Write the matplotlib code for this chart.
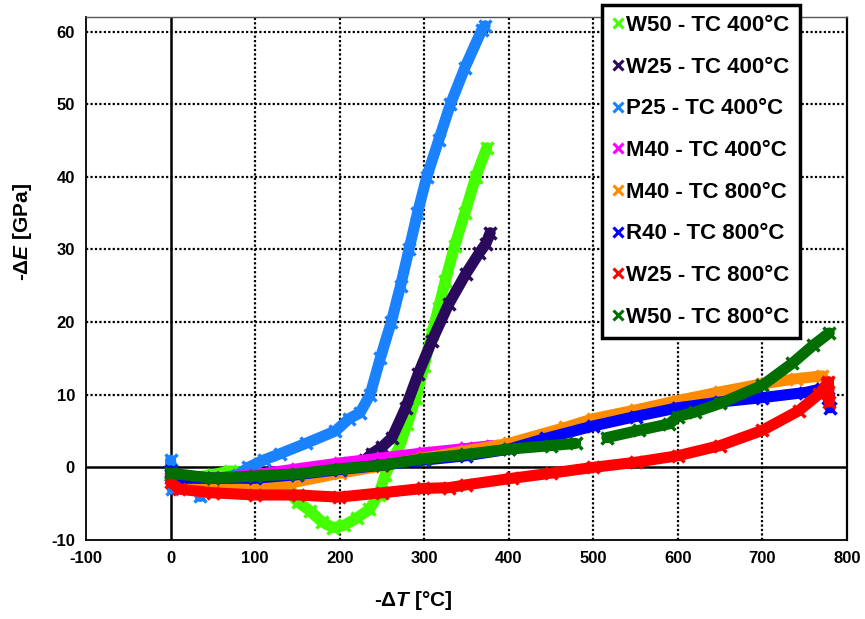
import numpy as np
import matplotlib
matplotlib.use("Agg")
import matplotlib.pyplot as plt
from matplotlib.lines import Line2D

plt.rcParams['font.family'] = ['Liberation Sans', 'DejaVu Sans']
plt.rcParams['font.weight'] = 'bold'
plt.rcParams['mathtext.fontset'] = 'custom'
plt.rcParams['mathtext.rm'] = 'Liberation Sans:bold'
plt.rcParams['mathtext.it'] = 'Liberation Sans:bold:italic'
plt.rcParams['mathtext.bf'] = 'Liberation Sans:bold'

# ---- data ----
labels = ["W50 - TC 400°C", "W25 - TC 400°C", "P25 - TC 400°C", "M40 - TC 400°C",
          "M40 - TC 800°C", "R40 - TC 800°C", "W25 - TC 800°C", "W50 - TC 800°C"]
colors = ["#44ff00", "#2a0a5c", "#1a82ff", "#ff00ff",
          "#ff8c00", "#0000ff", "#ff0000", "#006e00"]

w50_400_x = [0, 20, 50, 70, 100, 120, 140, 151, 165, 179, 192, 205, 220, 235, 246, 254, 262, 270, 280, 290, 300, 309, 317, 325, 336, 348, 361, 374]
w50_400_y = [-1, -1.5, -1, -0.5, -0.8, -2, -3.5, -4.8, -6, -7.5, -8.3, -8, -7, -5.8, -3.8, -1, 1, 2.7, 6, 9.6, 14, 18.4, 22, 25.7, 30.5, 35, 40, 44]

w25_400_x = [0, 50, 100, 150, 200, 230, 238, 250, 262, 278, 293, 309, 329, 349, 365, 373, 378]
w25_400_y = [-1, -1.5, -1.2, -0.5, 0.3, 1, 1.9, 2.8, 4.1, 8.2, 12.9, 17.4, 22.5, 26.6, 29.5, 30.8, 32.3]

p25_400_x = [0, 1, 2, 10, 30, 35, 40, 60, 80, 92, 110, 130, 160, 195, 211, 224, 236, 248, 261, 272, 282, 292, 303, 317, 331, 348, 368, 372]
p25_400_y = [1, -1, -3, -1.5, -2, -4, -2, -1.5, -1, 0, 1, 1.9, 3.3, 5, 6.7, 7.5, 10, 15, 20, 25, 30, 35, 40, 45, 50, 55, 60.2, 60.8]

m40_400_x = [0, 50, 100, 150, 200, 250, 300, 350, 380]
m40_400_y = [-1.5, -1.5, -1, -0.2, 0.6, 1.3, 2, 2.6, 3]

m40_800_x = [0, 30, 80, 112, 140, 200, 250, 300, 350, 400, 467, 500, 550, 600, 650, 700, 740, 771]
m40_800_y = [-1.5, -2.5, -3, -2.7, -2.2, -0.8, 0.2, 1.3, 2.3, 3.3, 5.5, 6.7, 7.9, 9.2, 10.4, 11.5, 12.2, 12.6]

r40_800_x = [0, 10, 50, 100, 150, 200, 250, 300, 350, 400, 444, 500, 550, 600, 650, 700, 750, 770, 778, 780]
r40_800_y = [-0.5, -1.5, -1.5, -1.5, -1, -0.3, 0.3, 1, 1.6, 2.5, 4, 5.7, 7, 8.2, 9, 9.6, 10.3, 10.8, 9.5, 8.2]

w25_800_x = [0, 10, 50, 100, 151, 199, 250, 299, 329, 350, 404, 450, 500, 550, 600, 650, 700, 743, 767, 776, 778, 779]
w25_800_y = [-2, -3, -3.5, -3.8, -3.8, -4.1, -3.5, -2.9, -2.8, -2.4, -1.5, -0.8, 0, 0.7, 1.6, 3, 5.1, 7.8, 10.1, 11.5, 11.8, 9]

w50_800_x = [0, 50, 100, 150, 200, 250, 300, 350, 400, 450, 479, np.nan, 516, 554, 590, 600, 620, 650, 700, 735, 760, 779]
w50_800_y = [-0.8, -1.5, -1.2, -0.9, -0.2, 0.3, 1.2, 1.8, 2.5, 3, 3.3, np.nan, 4.1, 5.1, 6, 7, 7.6, 8.8, 11.3, 14.3, 16.8, 18.5]

series_x = [w50_400_x, w25_400_x, p25_400_x, m40_400_x, m40_800_x, r40_800_x, w25_800_x, w50_800_x]
series_y = [w50_400_y, w25_400_y, p25_400_y, m40_400_y, m40_800_y, r40_800_y, w25_800_y, w50_800_y]

xticks = [-100, 0, 100, 200, 300, 400, 500, 600, 700, 800]
yticks = [-10, 0, 10, 20, 30, 40, 50, 60]

fig = plt.figure(figsize=(8.65, 6.19), dpi=100)
ax = fig.add_axes([86/865, 1-540/619, (847-86)/865, (540-17)/619])
ax.set_xlim(-100, 800)
ax.set_ylim(-10, 62)

for xs, ys, c in zip(series_x, series_y, colors):
    ax.plot(xs, ys, color=c, lw=8, solid_capstyle='round', solid_joinstyle='round',
            marker='x', ms=8, mew=2.5, zorder=3)

for xv in xticks[2:-1]:
    ax.axvline(xv, color='black', lw=1.6, ls=(0, (1, 1)), zorder=1)
for yv in yticks[1:]:
    if yv != 0:
        ax.axhline(yv, color='black', lw=1.6, ls=(0, (1, 1)), zorder=1)
ax.axvline(0, color='black', lw=1.8, zorder=1.5)
ax.axhline(0, color='black', lw=1.8, zorder=1.5)

ax.spines['left'].set_linewidth(1.3)
ax.spines['bottom'].set_linewidth(1.3)
ax.spines['top'].set_linewidth(1.0)
ax.spines['top'].set_color('#555555')
ax.spines['right'].set_linewidth(1.6)
ax.spines['right'].set_linestyle((0, (1, 1)))

ax.set_xticks(xticks)
ax.set_yticks(yticks)
ax.set_xticklabels([str(v) for v in xticks])
ax.set_yticklabels([str(v) for v in yticks])
ax.tick_params(length=0, pad=8, labelsize=12)
for t in ax.get_xticklabels() + ax.get_yticklabels():
    t.set_fontweight('bold')

fig.text(413/865, 1-601/619, r'-$\Delta T$ [°C]', fontsize=15, fontweight='bold',
         ha='center', va='center')
fig.text(22/865, 1-232/619, r'-$\Delta E$ [GPa]', fontsize=15, fontweight='bold',
         ha='center', va='center', rotation=90)

handles = [Line2D([], [], ls='none', marker='x', color=c, ms=7, mew=2.2) for c in colors]
leg = fig.legend(handles, labels, loc='upper left', bbox_to_anchor=(602/865, 1-5/619),
                 bbox_transform=fig.transFigure, frameon=True, fancybox=False, framealpha=1,
                 handlelength=0.5, handletextpad=0.15, labelspacing=0.93,
                 borderpad=0.45, borderaxespad=0,
                 prop={'family': 'Liberation Sans', 'weight': 'bold', 'size': 16})
leg.get_frame().set_edgecolor('black')
leg.get_frame().set_linewidth(2.5)
leg.set_zorder(10)

fig.savefig('out.png', dpi=100)
